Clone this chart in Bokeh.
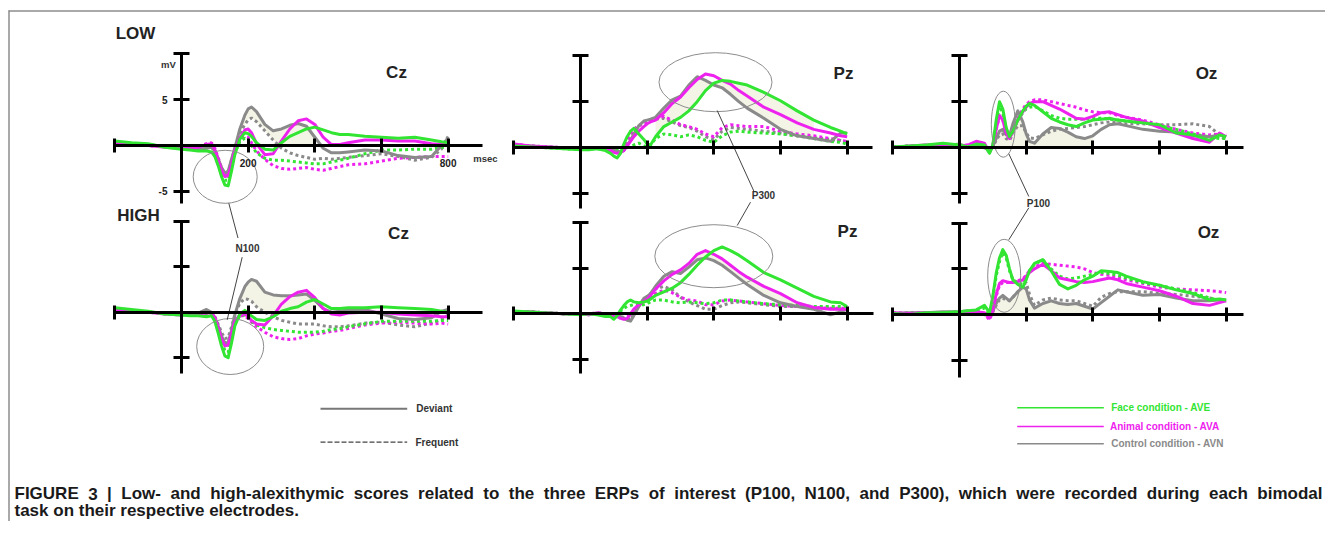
import numpy as np
from bokeh.plotting import figure
from bokeh.models import Range1d, LinearAxis, FixedTicker, CustomJSTickFormatter
from bokeh.core.properties import value
from bokeh.embed import file_html
from bokeh.resources import INLINE

# ---------------- data (ms, microvolts) ----------------
T = [-200, -150, -100, -50, 0, 25, 50, 75, 90, 100, 110, 120, 130, 140, 150, 160,
     175, 190, 200, 210, 225, 250, 275, 300, 325, 350, 375, 400, 425, 450, 475, 500,
     550, 600, 650, 700, 750, 780, 800]

# LOW - Cz
LOW_CZ_FACE_DEV = [0.5,0.3,0.2,-0.2, -0.4,-0.5,-0.6,-0.6, -0.7,-1.2,-2.2,-3.4,-4.3,-4.4,-2.8,-1.0, 0.7,1.4,1.3,1.0,0.3, -0.4,-0.5,0.3,1.0,1.4,1.8,2.0,1.7,1.4,1.2,1.2, 1.0,0.9,0.8,0.9,0.6,0.4,0.3]
LOW_CZ_ANIM_DEV = [0.2,0.1,0.0,-0.2, -0.3,-0.3,-0.2,0.1, 0.2,-0.5,-1.6,-2.7,-3.4,-3.3,-2.0,-0.5, 0.8,1.7,1.8,1.4,0.2, -1.0,-0.9,0.5,1.8,2.7,2.9,2.3,0.9,0.1,0.1,0.3, 0.6,0.6,0.5,0.5,0.2,0.1,0.1]
LOW_CZ_CTRL_DEV = [0.4,0.2,0.1,-0.1, -0.3,-0.3,-0.4,-0.3, -0.2,-0.6,-1.5,-2.4,-3.0,-2.8,-1.5,-0.3, 1.8,3.3,4.0,4.2,3.7, 2.3,1.6,1.8,2.2,2.4,2.1,0.9,-0.3,-0.8,-0.8,-0.7, -0.5,-0.6,-1.1,-1.3,-1.2,0.0,0.8]
LOW_CZ_FACE_FRQ = [0.3,0.2,0.1,-0.1, -0.2,-0.3,-0.3,-0.2, -0.2,-0.8,-1.8,-3.0,-3.8,-3.8,-2.4,-0.8, 0.4,0.8,0.6,0.0,-0.8, -1.4,-1.6,-1.6,-1.7,-1.8,-1.9,-2.0,-2.0,-1.8,-1.6,-1.4, -0.9,-0.5,-0.5,-0.4,-0.4,-0.2,-0.2]
LOW_CZ_ANIM_FRQ = [0.3,0.2,0.0,-0.1, -0.2,-0.2,-0.1,0.2, 0.3,-0.3,-1.3,-2.4,-3.2,-3.1,-1.8,-0.5, 0.5,1.0,0.9,0.3,-0.6, -1.5,-2.2,-2.5,-2.6,-2.5,-2.4,-2.6,-2.7,-2.5,-2.3,-2.1, -2.0,-1.7,-1.4,-1.3,-1.2,-1.2,-1.2]
LOW_CZ_CTRL_FRQ = [0.3,0.2,0.0,-0.1, -0.2,-0.3,-0.3,-0.3, -0.1,-0.5,-1.4,-2.5,-3.2,-3.0,-1.6,-0.3, 1.3,2.3,2.8,3.0,2.6, 1.6,0.6,-0.3,-0.8,-1.1,-1.3,-1.5,-1.4,-1.5,-1.4,-1.3, -1.1,-0.9,-1.2,-1.6,-1.3,-0.4,1.0]

# HIGH - Cz
HIGH_CZ_FACE_DEV = [0.5,0.3,0.1,-0.2, -0.3,-0.4,-0.4,-0.5, -0.4,-1.0,-2.3,-3.7,-4.8,-5.0,-3.4,-1.5, -0.2,0.2,-0.1,-0.4,-0.8, -0.9,-0.5,0.1,0.4,0.6,1.1,1.4,0.9,0.4,0.4,0.5, 0.5,0.6,0.5,0.4,0.3,0.1,0.0]
HIGH_CZ_ANIM_DEV = [0.3,0.2,0.0,-0.2, -0.3,-0.3,-0.2,-0.1, -0.1,-0.6,-1.7,-2.9,-3.7,-3.6,-2.3,-1.0, -0.3,-0.2,-0.5,-0.9,-1.3, -1.4,-0.4,0.9,1.7,2.2,2.4,1.6,0.4,-0.2,-0.3,-0.1, 0.0,0.0,-0.2,-0.3,-0.4,-0.5,-0.5]
HIGH_CZ_CTRL_DEV = [0.4,0.2,0.0,-0.1, -0.2,-0.3,-0.1,0.3, 0.0,-0.6,-1.5,-2.6,-3.4,-3.3,-2.0,-0.3, 1.5,2.8,3.3,3.6,3.4, 2.2,1.9,1.8,1.8,1.9,2.0,1.3,0.4,0.0,0.1,0.3, 0.3,-0.2,-0.7,-0.8,-0.6,0.1,0.3]
HIGH_CZ_FACE_FRQ = [0.3,0.2,0.0,-0.2, -0.3,-0.3,-0.3,-0.3, -0.3,-0.9,-2.0,-3.2,-4.2,-4.4,-2.9,-1.3, -0.4,-0.3,-0.6,-1.0,-1.4, -1.7,-1.9,-2.0,-2.1,-2.2,-2.2,-2.2,-2.1,-1.9,-1.8,-1.6, -1.3,-1.0,-1.0,-1.0,-1.0,-0.9,-0.9]
HIGH_CZ_ANIM_FRQ = [0.3,0.2,0.0,-0.1, -0.2,-0.3,-0.2,-0.1, -0.1,-0.5,-1.5,-2.7,-3.6,-3.6,-2.3,-1.0, -0.4,-0.4,-0.7,-1.1,-1.6, -2.2,-2.7,-2.9,-3.0,-2.9,-2.6,-2.4,-2.3,-2.1,-2.0,-1.8, -1.4,-1.2,-1.1,-1.2,-1.3,-1.2,-1.3]
HIGH_CZ_CTRL_FRQ = [0.3,0.2,0.0,-0.1, -0.2,-0.3,-0.2,0.0, -0.1,-0.5,-1.3,-2.2,-2.9,-2.8,-1.6,-0.3, 1.0,1.5,1.4,1.2,0.6, 0.0,-0.5,-0.9,-1.1,-1.3,-1.3,-1.3,-1.5,-1.6,-1.6,-1.5, -1.2,-1.1,-1.4,-1.6,-1.2,-0.8,-0.3]

# LOW - Pz
LOW_PZ_FACE_DEV = [0.2,0.1,0.0,-0.1, -0.2,-0.2,-0.1,-0.3, -0.6,-0.9,-1.1,-0.6,0.4,1.2,1.8,2.1, 1.5,0.9,0.4,0.3,1.2, 2.3,2.8,3.3,4.0,5.0,6.2,7.0,7.3,7.2,7.0,6.8, 6.0,5.1,4.0,3.0,2.2,1.8,1.5]
LOW_PZ_ANIM_DEV = [0.4,0.2,0.1,0.0, -0.1,0.0,0.0,-0.1, -0.3,-0.5,-0.6,-0.5,-0.3,0.2,0.7,1.2, 1.8,2.3,2.6,2.8,3.0, 3.8,4.8,5.5,6.5,7.4,8.0,7.8,7.3,6.9,6.2,5.6, 4.4,3.6,2.7,2.0,1.6,1.3,1.2]
LOW_PZ_CTRL_DEV = [0.3,0.2,0.1,0.0, -0.1,0.0,0.0,-0.1, -0.2,-0.3,-0.4,-0.4,-0.3,0.3,0.8,1.5, 2.4,2.9,3.0,3.1,3.3, 4.3,5.2,5.6,6.8,7.7,7.3,6.8,6.5,5.8,5.0,4.3, 3.2,2.0,1.3,1.0,0.7,1.6,1.6]
LOW_PZ_FACE_FRQ = [0.2,0.1,0.0,-0.1, -0.2,-0.1,-0.1,-0.2, -0.3,-0.3,-0.3,-0.3,-0.2,0.0,0.1,0.3, 0.5,0.2,0.1,0.3,1.0, 1.5,1.4,1.2,1.4,1.2,0.8,0.6,1.3,1.7,1.8,1.7, 1.6,1.5,1.3,1.0,0.7,0.6,0.4]
LOW_PZ_ANIM_FRQ = [0.4,0.2,0.1,0.0, -0.1,0.0,0.0,-0.1, -0.2,-0.3,-0.3,-0.2,0.2,0.8,1.4,2.0, 2.4,2.6,2.7,2.9,3.1, 3.4,3.0,2.5,2.3,2.0,1.5,1.2,2.2,2.5,2.4,2.3, 2.3,1.8,1.5,1.3,1.0,0.8,0.7]
LOW_PZ_CTRL_FRQ = [0.3,0.2,0.1,0.0, -0.1,0.0,0.0,-0.1, -0.2,-0.3,-0.3,-0.2,0.2,0.8,1.5,2.0, 2.4,2.6,2.7,2.9,3.1, 3.2,2.8,2.4,2.2,1.8,1.2,0.9,1.8,2.2,2.1,2.0, 1.8,1.6,1.3,1.1,0.9,0.8,0.6]

# HIGH - Pz
HIGH_PZ_FACE_DEV = [0.3,0.2,0.1,0.0, -0.1,0.0,-0.1,-0.3, -0.3,-0.6,-0.2,0.4,0.9,1.3,1.5,1.3, 1.2,1.3,1.4,1.6,2.0, 2.4,2.8,3.4,4.3,5.3,6.2,6.9,7.3,6.9,6.4,5.8, 4.5,3.7,2.8,1.9,1.3,1.2,0.8]
HIGH_PZ_ANIM_DEV = [0.2,0.2,0.1,0.0, 0.0,-0.1,0.1,0.0, -0.1,-0.2,-0.3,-0.5,-0.6,-0.5,0.0,0.5, 1.0,1.4,1.6,2.0,2.7, 3.6,4.3,4.8,5.5,6.5,6.9,6.5,6.0,5.3,4.6,4.0, 3.0,2.2,1.2,0.7,0.5,0.5,0.5]
HIGH_PZ_CTRL_DEV = [0.2,0.2,0.1,0.0, 0.0,-0.1,0.1,0.0, -0.1,-0.1,-0.2,-0.3,-0.5,-0.7,-0.8,-0.2, 0.8,1.7,1.9,2.2,3.0, 4.1,4.6,4.4,5.1,5.9,6.1,5.8,5.3,4.6,3.9,3.2, 2.0,1.2,0.8,0.5,-0.1,0.2,0.5]
HIGH_PZ_FACE_FRQ = [0.2,0.2,0.1,0.0, 0.0,0.0,0.0,-0.1, -0.2,-0.3,0.0,0.3,0.6,0.8,0.9,1.0, 1.0,1.0,1.1,1.3,1.5, 1.5,1.3,1.2,1.3,1.2,1.1,1.2,1.5,1.5,1.4,1.3, 1.1,1.0,0.9,0.8,0.8,0.8,0.8]
HIGH_PZ_ANIM_FRQ = [0.2,0.2,0.1,0.0, 0.0,0.0,0.1,0.0, -0.1,-0.2,-0.3,-0.4,-0.4,-0.3,-0.2,0.4, 0.9,1.4,1.6,1.8,2.2, 2.6,2.3,1.8,1.5,1.4,1.0,1.0,1.4,1.5,1.4,1.3, 1.1,0.9,0.8,0.7,0.6,0.6,0.6]
HIGH_PZ_CTRL_FRQ = [0.2,0.2,0.1,0.0, 0.0,0.0,0.1,0.0, -0.1,-0.1,-0.2,-0.3,-0.4,-0.5,-0.6,0.0, 0.8,1.6,1.8,2.2,2.7, 3.0,2.6,1.8,1.3,0.9,0.5,0.5,0.9,1.2,1.3,1.2, 1.0,0.8,0.8,0.7,0.6,0.5,0.5]

# LOW - Oz
LOW_OZ_FACE_DEV = [0.1,0.2,0.3,0.5, 0.3,0.1,0.4,0.3, -0.6,0.3,3.0,5.0,4.2,2.2,1.2,1.8, 3.0,4.0,4.5,4.8,4.6, 3.9,3.2,2.8,2.5,2.3,2.7,3.0,3.1,3.2,3.0,2.9, 2.7,2.5,1.6,1.4,0.8,1.4,1.2]
LOW_OZ_ANIM_DEV = [0.0,0.2,0.3,0.3, 0.2,0.3,0.7,0.5, -0.5,0.3,2.0,3.5,3.0,1.6,1.0,1.8, 3.0,3.9,4.4,4.8,5.0, 5.0,4.6,4.2,3.7,3.2,3.1,3.4,3.8,3.9,3.6,3.3, 2.9,2.2,1.6,1.0,0.6,1.6,1.2]
LOW_OZ_CTRL_DEV = [0.1,0.1,0.2,0.2, 0.4,0.1,0.2,0.0, -0.3,0.2,1.0,1.8,2.0,1.4,1.3,2.6, 4.0,2.8,1.5,0.7,0.5, 1.5,2.2,2.1,1.7,1.2,1.0,1.3,2.0,2.5,2.6,2.4, 2.0,1.8,1.7,1.3,1.2,1.4,1.2]
LOW_OZ_FACE_FRQ = [0.1,0.2,0.3,0.4, 0.3,0.2,0.3,0.2, -0.5,0.2,2.6,4.5,3.8,2.0,1.2,1.8, 3.0,3.8,4.2,4.4,4.5, 4.0,3.5,3.2,3.1,3.1,3.1,3.2,3.2,3.1,3.0,2.9, 2.7,2.4,2.0,1.5,1.2,1.0,1.0]
LOW_OZ_ANIM_FRQ = [0.1,0.2,0.2,0.3, 0.2,0.3,0.6,0.4, -0.5,0.2,2.0,3.4,3.0,1.6,1.0,1.8, 3.2,4.2,4.7,5.0,5.2, 5.2,5.0,4.8,4.6,4.4,4.1,3.9,3.8,3.8,3.5,3.3, 3.0,2.5,2.0,1.6,1.4,1.5,1.4]
LOW_OZ_CTRL_FRQ = [0.1,0.1,0.2,0.2, 0.3,0.1,0.2,0.0, -0.4,0.1,0.8,1.4,1.5,1.0,0.8,1.6, 2.4,2.4,1.6,1.1,1.0, 1.4,1.8,2.0,2.1,2.2,2.3,2.5,2.7,2.8,2.7,2.6, 2.6,2.5,2.5,2.6,2.3,1.4,0.8]

# HIGH - Oz
HIGH_OZ_FACE_DEV = [0.1,0.0,0.2,0.2, 0.3,0.4,0.5,1.0, 0.2,2.0,4.5,6.2,7.1,6.5,5.0,3.8, 3.3,3.0,3.8,4.8,5.6, 6.0,4.8,3.3,2.8,3.2,3.8,4.2,4.8,4.7,4.6,4.2, 3.6,3.2,2.7,2.3,1.6,1.7,1.6]
HIGH_OZ_ANIM_DEV = [0.2,0.1,0.2,0.1, 0.2,0.3,0.3,0.2, -0.4,0.5,2.2,3.4,3.7,3.6,3.5,3.5, 3.6,3.8,4.2,4.6,5.0, 5.5,4.8,4.0,3.8,3.6,3.5,3.6,3.8,4.0,3.8,3.4, 3.0,2.6,2.0,1.2,1.0,1.3,1.5]
HIGH_OZ_CTRL_DEV = [0.1,0.2,0.2,0.3, 0.3,0.4,0.2,0.0, -0.1,0.4,1.2,1.8,2.1,1.8,1.5,1.9, 2.5,3.0,2.8,1.6,0.7, 1.2,1.5,1.2,1.1,1.2,0.9,0.6,1.3,2.0,2.7,2.5, 2.1,2.2,1.8,1.5,1.5,1.6,1.6]
HIGH_OZ_FACE_FRQ = [0.1,0.1,0.2,0.2, 0.3,0.3,0.4,0.7, -0.2,1.8,4.2,5.8,6.8,6.2,4.8,3.8, 3.5,3.3,4.0,4.8,5.5, 6.0,5.0,4.2,3.9,4.0,4.2,4.4,4.6,4.5,4.3,4.0, 3.5,3.2,2.8,2.4,1.8,1.6,1.5]
HIGH_OZ_ANIM_FRQ = [0.2,0.1,0.2,0.1, 0.2,0.2,0.3,0.1, -0.6,0.3,2.0,3.2,3.5,3.5,3.5,3.6, 3.7,3.9,4.3,4.8,5.2, 5.6,5.5,5.4,5.3,5.2,5.0,4.6,4.4,4.3,4.0,3.8, 3.4,3.0,2.8,2.7,2.6,2.5,2.4]
HIGH_OZ_CTRL_FRQ = [0.1,0.2,0.2,0.2, 0.3,0.3,0.2,0.0, -0.2,0.3,1.0,1.6,1.8,1.6,1.5,1.9, 2.5,3.2,3.5,2.2,1.0, 1.6,1.8,1.6,1.5,1.5,1.2,0.9,1.9,2.3,2.5,2.5, 2.5,2.3,2.2,2.0,1.8,1.6,1.5]

X_TICKS = [-200, 0, 200, 400, 600, 800]
Y_TICKS = [-5, 0, 5, 10]
X_LABELS = [200, 800]
Y_LABELS = [-5, 5]

CAPTION_1 = ("FIGURE 3 | Low- and high-alexithymic scores related to the three ERPs of interest "
             "(P100, N100, and P300), which were recorded during each bimodal")
CAPTION_2 = "task on their respective electrodes."

# ---------------- styling / layout ----------------
GREEN, MAGENTA, GRAY = "#33e533", "#ee22ee", "#8a8a8a"
FILL = "#f3f3e6"
FONT = "Liberation Sans"
W, H = 1325, 521
X_LO, X_HI = 0, W
Y_TOP, Y_BOT = 0, H
MS_PER_PX = 3.0

p = figure(width=W, height=H, x_range=Range1d(X_LO, X_HI), y_range=Range1d(Y_BOT, Y_TOP),
           output_backend="svg", toolbar_location=None, min_border=0,
           x_axis_type=None, y_axis_type=None, outline_line_color=None,
           background_fill_color="white", border_fill_color="white")

panels = [
    dict(key="lcz", x0=181, y0=145.0, ytop=53.3, ybot=203, xend=902, labels=True,
         curves=(LOW_CZ_FACE_DEV, LOW_CZ_ANIM_DEV, LOW_CZ_CTRL_DEV, LOW_CZ_FACE_FRQ, LOW_CZ_ANIM_FRQ, LOW_CZ_CTRL_FRQ),
         fill=("ctrl_dev", "ctrl_frq_pos", 175, 400)),
    dict(key="hcz", x0=181, y0=311.7, ytop=220.7, ybot=373, xend=902, labels=False,
         curves=(HIGH_CZ_FACE_DEV, HIGH_CZ_ANIM_DEV, HIGH_CZ_CTRL_DEV, HIGH_CZ_FACE_FRQ, HIGH_CZ_ANIM_FRQ, HIGH_CZ_CTRL_FRQ),
         fill=("ctrl_dev", "ctrl_frq_pos", 175, 400)),
    dict(key="lpz", x0=580, y0=147.3, ytop=55.0, ybot=208, xend=875, labels=False,
         curves=(LOW_PZ_FACE_DEV, LOW_PZ_ANIM_DEV, LOW_PZ_CTRL_DEV, LOW_PZ_FACE_FRQ, LOW_PZ_ANIM_FRQ, LOW_PZ_CTRL_FRQ),
         fill=("ctrl_dev", "face_dev", 225, 700)),
    dict(key="hpz", x0=580, y0=313.3, ytop=221.7, ybot=373, xend=880, labels=False,
         curves=(HIGH_PZ_FACE_DEV, HIGH_PZ_ANIM_DEV, HIGH_PZ_CTRL_DEV, HIGH_PZ_FACE_FRQ, HIGH_PZ_ANIM_FRQ, HIGH_PZ_CTRL_FRQ),
         fill=("ctrl_dev", "anim_dev", 250, 700)),
    dict(key="loz", x0=959, y0=147.3, ytop=55.0, ybot=203, xend=852, labels=False,
         curves=(LOW_OZ_FACE_DEV, LOW_OZ_ANIM_DEV, LOW_OZ_CTRL_DEV, LOW_OZ_FACE_FRQ, LOW_OZ_ANIM_FRQ, LOW_OZ_CTRL_FRQ),
         fill=("ctrl_dev", "zero", 100, 400)),
    dict(key="hoz", x0=959, y0=314.0, ytop=222.7, ybot=376.7, xend=852, labels=False,
         curves=(HIGH_OZ_FACE_DEV, HIGH_OZ_ANIM_DEV, HIGH_OZ_CTRL_DEV, HIGH_OZ_FACE_FRQ, HIGH_OZ_ANIM_FRQ, HIGH_OZ_CTRL_FRQ),
         fill=("ctrl_dev", "zero", 100, 400)),
]

xr, yr = {}, {}
for pn in panels:
    sy = (pn["y0"] - pn["ytop"]) / 10.0
    pn["sy"] = sy
    xr[pn["key"]] = Range1d((X_LO - pn["x0"]) * MS_PER_PX, (X_HI - pn["x0"]) * MS_PER_PX)
    yr[pn["key"]] = Range1d((pn["y0"] - Y_BOT) / sy, (pn["y0"] - Y_TOP) / sy)
p.extra_x_ranges = xr
p.extra_y_ranges = yr

tarr = np.array(T, dtype=float)
for pn in panels:
    k = pn["key"]
    fd, ad, cd, ff, af, cf = [np.array(c, dtype=float) for c in pn["curves"]]
    series = dict(face_dev=fd, anim_dev=ad, ctrl_dev=cd, ctrl_frq_pos=np.clip(cf, 0, None),
                  zero=np.zeros_like(cd))
    a, b, t0, t1 = pn["fill"]
    m = (tarr >= t0) & (tarr <= t1)
    p.varea(x=tarr[m], y1=series[a][m], y2=series[b][m], fill_color=FILL,
            x_range_name=k, y_range_name=k)

    ybottom = (pn["y0"] - pn["ybot"]) / pn["sy"]
    xshow = X_LABELS if pn["labels"] else []
    yshow = Y_LABELS if pn["labels"] else []
    common = dict(axis_line_width=3, axis_line_color="black",
                  major_tick_line_width=3, major_tick_line_color="black",
                  minor_tick_line_color=None, major_label_standoff=6,
                  major_label_text_font=FONT, major_label_text_font_style="bold",
                  major_label_text_font_size="10px", major_label_text_color="#222222")
    xa = LinearAxis(x_range_name=k, y_range_name=k, fixed_location=0, bounds=(-200, pn["xend"]),
                    ticker=FixedTicker(ticks=X_TICKS, minor_ticks=[]),
                    formatter=CustomJSTickFormatter(args=dict(show=xshow),
                                                    code="return show.includes(tick) ? String(tick) : ''"),
                    major_tick_in=7, major_tick_out=7, **common)
    ya = LinearAxis(x_range_name=k, y_range_name=k, fixed_location=0, bounds=(ybottom, 10),
                    ticker=FixedTicker(ticks=Y_TICKS, minor_ticks=[]),
                    formatter=CustomJSTickFormatter(args=dict(show=yshow),
                                                    code="return show.includes(tick) ? String(tick) : ''"),
                    major_tick_in=8, major_tick_out=8, major_label_orientation="horizontal", **common)
    p.add_layout(xa, "below")
    p.add_layout(ya, "left")

    for vals, col in ((cf, GRAY), (af, MAGENTA), (ff, GREEN)):
        p.line(tarr, vals, line_color=col, line_width=3, line_dash="3 3",
               x_range_name=k, y_range_name=k)
    for vals, col in ((cd, GRAY), (ad, MAGENTA), (fd, GREEN)):
        p.line(tarr, vals, line_color=col, line_width=3, line_join="round",
               x_range_name=k, y_range_name=k)

# ---------------- annotations (page pixel positions) ----------------
p.ellipse(x=[224.7, 229.7, 715.0, 713.3, 1002.8, 1003.7],
          y=[176.3, 346.0, 81.7, 255.7, 123.7, 275.3],
          width=[64, 67, 113, 118, 24, 33], height=[53, 56, 59, 63, 66, 73],
          width_units="screen", height_units="screen",
          fill_color=None, line_color="#8c8c8c", line_width=1)
p.segment(x0=[228.3, 241.7, 716.7, 750.0, 1008.3, 1028.3],
          y0=[202.7, 256.7, 110.0, 201.7, 153.3, 207.3],
          x1=[237.5, 226.7, 753.3, 736.7, 1028.3, 1008.3],
          y1=[237.5, 319.3, 190.5, 225.0, 196.0, 239.3],
          line_color="#444444", line_width=1)

def txt(x, y, s, size, color="#222222", align="center"):
    p.text(x=x, y=y, text=s, text_font=value(FONT), text_font_style="bold",
           text_font_size=size, text_color=color, text_align=align, text_baseline="middle")

txt([135, 138], [33, 215], ["LOW", "HIGH"], "17px")
txt([396, 398, 843, 847, 1206, 1208], [72, 233, 73, 231, 73, 232],
    ["Cz", "Cz", "Pz", "Pz", "Oz", "Oz"], "17px")
txt([168, 485], [64, 158], ["mV", "msec"], "9.5px", "#333333")
txt([247, 763, 1038], [248, 195, 203], ["N100", "P300", "P100"], "10px", "#333333")

# legends
p.segment(x0=[320], y0=[408.3], x1=[406.7], y1=[408.3], line_color="#777777", line_width=2)
p.segment(x0=[320], y0=[441.7], x1=[406.7], y1=[441.7], line_color="#444444", line_width=1.3, line_dash="5 2")
txt([415.7, 415.0], [408.3, 441.7], ["Deviant", "Frequent"], "10px", "#333333", "left")
p.segment(x0=[1016.7, 1016.7, 1016.7], y0=[407.3, 426.0, 443.3],
          x1=[1103.3, 1103.3, 1103.3], y1=[407.3, 426.0, 443.3],
          line_color=[GREEN, MAGENTA, GRAY], line_width=1.6)
txt([1110.7], [407.3], ["Face condition  - AVE"], "10px", GREEN, "left")
txt([1109.5], [426.0], ["Animal condition - AVA"], "10px", MAGENTA, "left")
txt([1110.7], [443.3], ["Control condition  - AVN"], "10px", GRAY, "left")

# frame
p.segment(x0=[8.5, 8], y0=[10, 10.5], x1=[8.5, 1325], y1=[521, 10.5], line_color="#8c8c8c", line_width=1.5)

# caption: first line justified (word positions from Arial-Bold-compatible advance widths)
ADV = {" ": 278, "!": 333, "(": 333, ")": 333, ",": 278, "-": 333, ".": 278, "|": 280,
       "A": 722, "B": 722, "C": 722, "D": 722, "E": 667, "F": 611, "G": 778, "H": 722, "I": 278,
       "J": 556, "K": 722, "L": 611, "M": 833, "N": 722, "O": 778, "P": 667, "Q": 778, "R": 722,
       "S": 667, "T": 611, "U": 722, "V": 667, "W": 944, "X": 667, "Y": 667, "Z": 611,
       "a": 556, "b": 611, "c": 556, "d": 611, "e": 556, "f": 333, "g": 611, "h": 611, "i": 278,
       "j": 278, "k": 556, "l": 278, "m": 889, "n": 611, "o": 611, "p": 611, "q": 611, "r": 389,
       "s": 556, "t": 333, "u": 611, "v": 556, "w": 778, "x": 556, "y": 556, "z": 500}
CAP_SIZE = 17.0
def adv(s):
    return sum(ADV.get(c, 556) for c in s) * CAP_SIZE / 1000.0

words = CAPTION_1.split(" ")
left, right = 14.0, 1322.0
gap = (right - left - sum(adv(w) for w in words)) / (len(words) - 1)
xs, cur = [], left
for w_ in words:
    xs.append(cur)
    cur += adv(w_) + gap
txt(xs, [493] * len(words), words, "17px", "#1a1a1a", "left")
txt([14], [510], [CAPTION_2], "17px", "#1a1a1a", "left")

open("out.html", "w").write(file_html(p, INLINE))
